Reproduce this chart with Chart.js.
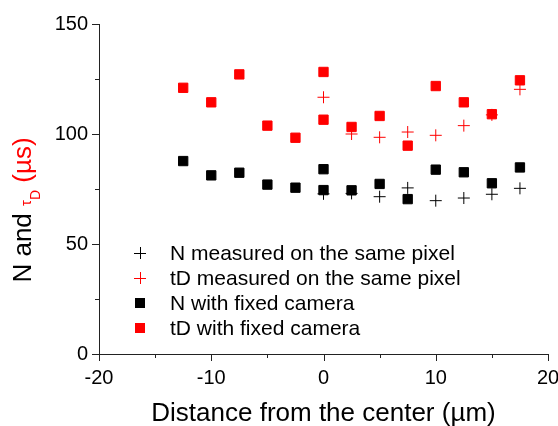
<!DOCTYPE html>
<html>
<head>
<meta charset="utf-8">
<script src="https://cdn.jsdelivr.net/npm/chart.js@4/dist/chart.umd.min.js"></script>
<style>
  html, body { margin: 0; padding: 0; background: #fff; }
  #wrap { width: 558px; height: 426px; position: relative; }
</style>
</head>
<body>
<div id="wrap"><canvas id="c" width="558" height="426"></canvas></div>
<script>
// ---- Data ----
const xFixed  = [-12.5, -10, -7.5, -5, -2.5, 0, 0, 2.5, 5, 7.5, 10, 12.5, 15, 17.5];
const nFixed  = [87.7, 81.2, 82.4, 77.0, 75.6, 84.0, 74.5, 74.4, 77.3, 70.4, 83.8, 82.6, 77.6, 84.8];
const tdFixed = [121.0, 114.4, 127.1, 103.8, 98.3, 128.2, 106.5, 103.2, 108.2, 94.7, 121.8, 114.4, 109.0, 124.4];

const xSame  = [0, 2.5, 5, 7.5, 10, 12.5, 15, 17.5];
const nSame  = [72.8, 73.0, 71.5, 75.5, 69.7, 70.9, 72.6, 75.3];
const tdSame = [116.7, 100.0, 98.5, 100.9, 99.4, 103.8, 108.7, 120.3];

const seriesLabels = [
  "N measured on the same pixel",
  "tD measured on the same pixel",
  "N with fixed camera",
  "tD with fixed camera"
];
const xTickLabels = [-20, -10, 0, 10, 20];
const yTickLabels = [0, 50, 100, 150];

const xTitle = "Distance from the center (\u00B5m)";
const yTitleParts = ["N and ", "\u03C4", "D", " (\u00B5s)"];

const RED = '#ff0000';
const BLACK = '#000000';
const FONT = '"Liberation Sans", Arial, sans-serif';

function pts(xs, ys) { return xs.map((x, i) => ({ x: x, y: ys[i] })); }

const decorPlugin = {
  id: 'decor',
  afterDraw(chart) {
    const ctx = chart.ctx;
    const xs = chart.scales.x, ys = chart.scales.y;
    const area = chart.chartArea;
    ctx.save();
    // tick marks (major/minor) placed from scales
    ctx.strokeStyle = '#222';
    ctx.lineWidth = 1;
    xs.ticks.forEach(t => {
      const px = Math.round(xs.getPixelForValue(t.value)) + 0.5;
      const major = xTickLabels.includes(t.value);
      const len = major ? 7 : 4;
      ctx.beginPath();
      ctx.moveTo(px, Math.round(area.bottom));
      ctx.lineTo(px, Math.round(area.bottom) + len);
      ctx.stroke();
    });
    ys.ticks.forEach(t => {
      const py = Math.round(ys.getPixelForValue(t.value)) + 0.5;
      const major = yTickLabels.includes(t.value);
      const len = major ? 7 : 4;
      ctx.beginPath();
      ctx.moveTo(Math.round(area.left), py);
      ctx.lineTo(Math.round(area.left) - len, py);
      ctx.stroke();
    });

    // x axis title
    ctx.fillStyle = BLACK;
    ctx.font = '26px ' + FONT;
    ctx.textAlign = 'center';
    ctx.textBaseline = 'alphabetic';
    ctx.fillText(xTitle, (area.left + area.right) / 2, 421);

    // y axis title (mixed colours, rotated)
    const big = '26px ' + FONT, small = '15px ' + FONT, sub = '14px ' + FONT;
    const partFonts = [big, small, sub, big];
    const partColors = [BLACK, RED, RED, RED];
    const partDy = [0, 0, 9, 0];
    let widths = yTitleParts.map((p, i) => { ctx.font = partFonts[i]; return ctx.measureText(p).width; });
    const total = widths.reduce((a, b) => a + b, 0);
    ctx.translate(31, 210);
    ctx.rotate(-Math.PI / 2);
    ctx.textAlign = 'left';
    let cx = -total / 2;
    yTitleParts.forEach((p, i) => {
      ctx.font = partFonts[i];
      ctx.fillStyle = partColors[i];
      ctx.fillText(p, cx, partDy[i]);
      cx += widths[i];
    });
    ctx.restore();

    // legend
    ctx.save();
    const rows = [253, 278, 303, 328];
    const symX = 140, textX = 170;
    ctx.font = '21px ' + FONT;
    ctx.textBaseline = 'middle';
    ctx.textAlign = 'left';
    chart.data.datasets.forEach((ds, i) => {
      const y = rows[i];
      const col = ds.borderColor;
      if (ds.pointStyle === 'cross') {
        ctx.strokeStyle = col; ctx.lineWidth = 1;
        ctx.beginPath();
        ctx.moveTo(symX - 6, y + 0.5); ctx.lineTo(symX + 6, y + 0.5);
        ctx.moveTo(symX + 0.5, y - 6); ctx.lineTo(symX + 0.5, y + 6);
        ctx.stroke();
      } else {
        ctx.fillStyle = col;
        ctx.fillRect(symX - 5, y - 5, 10, 10);
      }
      ctx.fillStyle = BLACK;
      ctx.fillText(ds.label, textX, y + 1);
    });
    ctx.restore();
  }
};

new Chart(document.getElementById('c'), {
  type: 'scatter',
  data: {
    datasets: [
      { label: seriesLabels[0], data: pts(xSame, nSame), pointStyle: 'cross', pointRadius: 6, pointHoverRadius: 6,
        borderColor: BLACK, backgroundColor: BLACK, borderWidth: 1, order: 2 },
      { label: seriesLabels[1], data: pts(xSame, tdSame), pointStyle: 'cross', pointRadius: 6, pointHoverRadius: 6,
        borderColor: RED, backgroundColor: RED, borderWidth: 1, order: 2 },
      { label: seriesLabels[2], data: pts(xFixed, nFixed), pointStyle: 'rect', pointRadius: 6.6, pointHoverRadius: 6.6,
        borderColor: BLACK, backgroundColor: BLACK, borderWidth: 1, order: 1 },
      { label: seriesLabels[3], data: pts(xFixed, tdFixed), pointStyle: 'rect', pointRadius: 6.6, pointHoverRadius: 6.6,
        borderColor: RED, backgroundColor: RED, borderWidth: 1, order: 1 }
    ]
  },
  options: {
    responsive: false,
    animation: false,
    devicePixelRatio: 1,
    layout: { padding: { top: 24, right: 10, bottom: 0, left: 0 } },
    plugins: { legend: { display: false }, tooltip: { enabled: false } },
    scales: {
      x: {
        type: 'linear', min: -20, max: 20,
        afterFit: s => { s.height = 72; s.paddingLeft = 0; s.paddingRight = 0; },
        grid: { display: false, drawTicks: false },
        border: { display: true, color: '#222', width: 1 },
        ticks: {
          stepSize: 5, padding: 12, color: BLACK, maxRotation: 0, autoSkip: false,
          font: { family: FONT, size: 20 },
          callback: v => xTickLabels.includes(v) ? String(v) : ''
        }
      },
      y: {
        type: 'linear', min: 0, max: 150,
        afterFit: s => { s.width = 99; s.paddingTop = 0; s.paddingBottom = 0; },
        grid: { display: false, drawTicks: false },
        border: { display: true, color: '#222', width: 1 },
        ticks: {
          stepSize: 25, padding: 11, color: BLACK, autoSkip: false,
          font: { family: FONT, size: 20 },
          callback: v => yTickLabels.includes(v) ? String(v) : ''
        }
      }
    }
  },
  plugins: [decorPlugin]
});
</script>
</body>
</html>
